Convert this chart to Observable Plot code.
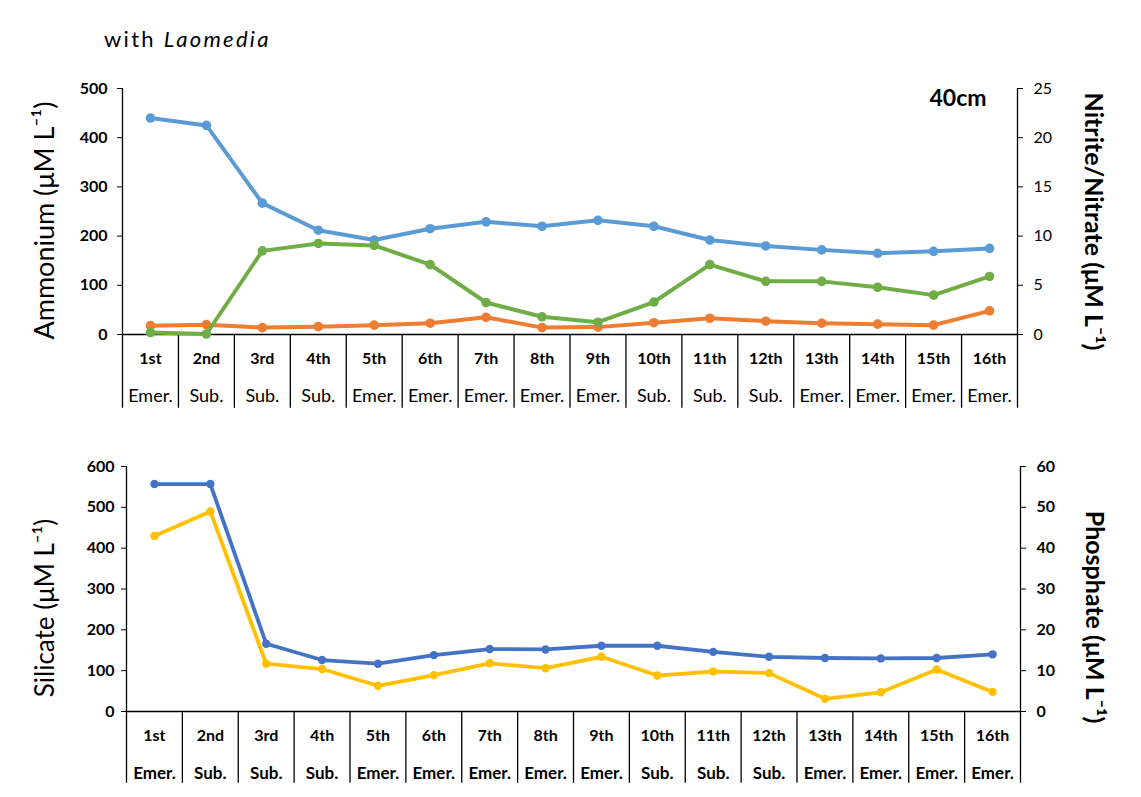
<!DOCTYPE html>
<html><head><meta charset="utf-8">
<script src="https://cdn.jsdelivr.net/npm/d3@7"></script>
<script src="https://cdn.jsdelivr.net/npm/@observablehq/plot@0.6"></script>
<style>
body{margin:0;background:#fff;font-family:Lato,"Open Sans",sans-serif;}
#title{height:60px;position:relative}
#title span{position:absolute;left:104px;top:25px;font-size:22px;letter-spacing:2.3px;color:#000}
svg{display:block}
</style></head><body>
<div id="title"><span>with <i>Laomedia</i></span></div>
<div id="chart"></div>
<script>
const categories = ["1st","2nd","3rd","4th","5th","6th","7th","8th","9th","10th","11th","12th","13th","14th","15th","16th"];
const types = ["Emer.","Sub.","Sub.","Sub.","Emer.","Emer.","Emer.","Emer.","Emer.","Sub.","Sub.","Sub.","Emer.","Emer.","Emer.","Emer."];

// Top panel
const ammonium = [440,425,267,212,192,215,229,220,232,220,192,180,172,165,169,175];
const nitrate  = [0.2,0.05,8.5,9.25,9.05,7.1,3.25,1.8,1.25,3.3,7.1,5.4,5.4,4.8,4.0,5.9];
const nitrite  = [0.9,1.0,0.7,0.8,0.95,1.15,1.75,0.7,0.75,1.2,1.65,1.35,1.15,1.05,0.95,2.4];
const topLeftTicks = [0,100,200,300,400,500];
const topRightTicks = [0,5,10,15,20,25];

// Bottom panel
const silicate  = [557,557,166,126,117,138,153,152,161,161,146,134,131,130,131,140];
const phosphate = [43,49,11.7,10.4,6.3,8.9,11.8,10.6,13.4,8.8,9.8,9.4,3.1,4.7,10.3,4.8];
const botLeftTicks = [0,100,200,300,400,500,600];
const botRightTicks = [0,10,20,30,40,50,60];

const idx = categories.map((_, i) => i + 1);

function panel(o) {
  const k = o.leftMax / o.rightMax;
  const edges = [0.5, ...idx.map(i => i + 0.5)];
  const marks = [
    Plot.ruleY([0], {stroke: "#000", strokeWidth: 1.3}),
    Plot.ruleX(edges, {y1: -o.boxDepth, y2: d => (d === 0.5 || d === idx.length + 0.5) ? o.leftMax : 0, stroke: "#000", strokeWidth: 1.3}),
    Plot.axisY(o.leftTicks, {anchor: "left", label: null, tickSize: 5, tickPadding: o.lpad, fontSize: 16, fontWeight: "bold", stroke: "#000"}),
    Plot.axisY(o.rightTicks.map(v => v * k), {anchor: "right", label: null, tickSize: 5, tickPadding: 11, fontSize: 16, fontWeight: o.rightWeight, tickFormat: d => Math.round(d / k)}),
    Plot.axisX(idx, {anchor: "bottom", label: null, tickSize: 0, tickPadding: 18, fontSize: 16, fontWeight: "bold", tickFormat: i => categories[i - 1]}),
    Plot.axisX(idx, {anchor: "bottom", label: null, tickSize: 0, tickPadding: 55, fontSize: o.typeSize, fontWeight: o.typeWeight, tickFormat: i => types[i - 1]}),
  ];
  for (const s of o.series) {
    const data = s.values.map((v, i) => ({i: i + 1, v: s.right ? v * k : v}));
    marks.push(Plot.line(data, {x: "i", y: "v", stroke: s.color, strokeWidth: o.lw}));
    marks.push(Plot.dot(data, {x: "i", y: "v", fill: s.color, r: o.r}));
  }
  marks.push(Plot.text([o.leftLabel], {frameAnchor: "left", textAnchor: "middle", lineAnchor: "middle", dx: o.ldx, dy: o.ldy, rotate: -90, fontSize: o.lsize, fontWeight: o.lweight, fill: "#000"}));
  marks.push(Plot.text([o.rightLabel], {frameAnchor: "right", textAnchor: "middle", lineAnchor: "middle", dx: o.rdx, dy: o.rdy, rotate: 90, fontSize: o.rsize, fontWeight: "bold", fill: "#000"}));
  if (o.note) marks.push(Plot.text([o.note], {frameAnchor: "top-right", dx: -31, dy: 1, fontSize: 23, fontWeight: "bold", fill: "#000"}));
  return Plot.plot({
    width: 1141, height: o.height,
    marginTop: o.mt, marginBottom: o.mb, marginLeft: o.ml, marginRight: o.mr,
    x: {type: "linear", domain: [0.5, idx.length + 0.5], axis: null},
    y: {domain: [0, o.leftMax], axis: null},
    style: {fontFamily: "Lato, 'Open Sans', sans-serif", background: "#fff", color: "#000", overflow: "visible"},
    marks
  });
}

const topPanel = panel({
  height: 355, mt: 28, mb: 81, ml: 122, mr: 124, lpad: 10,
  leftMax: 500, rightMax: 25, leftTicks: topLeftTicks, rightTicks: topRightTicks,
  boxDepth: 150, rightWeight: "normal", typeWeight: "normal", typeSize: 18, lw: 4, r: 4.8,
  series: [
    {values: ammonium, color: "#5B9BD5", right: false},
    {values: nitrite, color: "#ED7D31", right: true},
    {values: nitrate, color: "#70AD47", right: true}
  ],
  leftLabel: "Ammonium (μM L⁻¹)", ldx: -77, ldy: 9, lsize: 27, lweight: "normal",
  rightLabel: "Nitrite/Nitrate (μM L⁻¹)", rdx: 75, rdy: 10, rsize: 25,
  note: "40cm"
});
const botPanel = panel({
  height: 382, mt: 51, mb: 86, ml: 126, mr: 121, lpad: 7,
  leftMax: 600, rightMax: 60, leftTicks: botLeftTicks, rightTicks: botRightTicks,
  boxDepth: 176, rightWeight: "bold", typeWeight: "bold", typeSize: 17, lw: 3.8, r: 4.2,
  series: [
    {values: silicate, color: "#4472C4", right: false},
    {values: phosphate, color: "#FFC000", right: true}
  ],
  leftLabel: "Silicate (μM L⁻¹)", ldx: -81, ldy: 19, lsize: 26, lweight: "normal",
  rightLabel: "Phosphate (μM L⁻¹)", rdx: 73, rdy: 28, rsize: 25
});
document.getElementById("chart").append(topPanel, botPanel);
</script></body></html>
